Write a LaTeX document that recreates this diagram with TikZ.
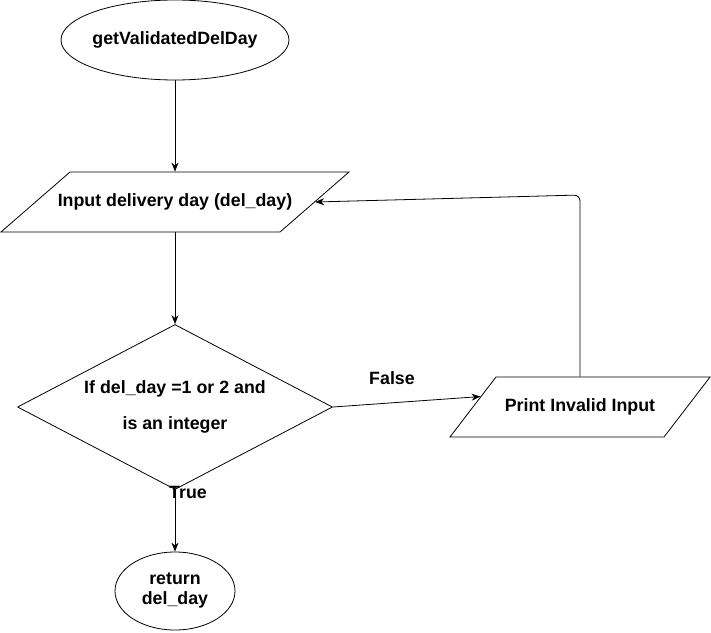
\documentclass[tikz,border=0pt]{standalone}
\usepackage{fontspec}
\setmainfont{Liberation Sans}
\usetikzlibrary{arrows.meta,shapes.geometric}
\tikzset{
	txt/.style={font=\bfseries\fontsize{17.8}{20}\selectfont, align=center},
	shp/.style={draw, line width=0.8pt, inner sep=0pt},
	io/.style={shp, trapezium, inner ysep=30pt},
	flow/.style={line width=0.8pt, -{Stealth[length=9pt,width=7pt]}},
}

\begin{document}
\begin{tikzpicture}[x=1pt,y=-1pt]
		%%%%% START %%%%%
		\useasboundingbox (0,0) rectangle (711,632);
		
		\node[shp, ellipse, minimum width=228pt, minimum height=80pt, label={[txt]center:getValidatedDelDay}] (start) at (175,40) {};
		\node[io, trapezium left angle=41, trapezium right angle=139, inner xsep=105pt, label={[txt]center:Input delivery day (del\_day)}] (input) at (175,202) {};
		\node[shp, diamond, minimum width=315pt, minimum height=165pt, label={[txt, font=\bfseries\fontsize{17.8}{36}\selectfont]center:If del\_day =1 or 2 and\\is an integer}] (check) at (175,407) {};
		\node[io, trapezium left angle=52.5, trapezium right angle=127.5, inner xsep=84pt, label={[txt]center:Print Invalid Input}] (print) at (580,407) {};
		\node[shp, ellipse, minimum width=120pt, minimum height=78pt, label={[txt]center:return\\del\_day}] (ret) at (175,591) {};
		
		\node[txt] (yes) at (188,492) {True};
		\node[txt] (no) at (392,378) {False};
		
		\draw[flow] (start) -- (input);
		\draw[flow] (input) -- (check);
		\draw[flow] (check) -- (ret);
		\draw[flow] (check.east) -- (print.174);
		
		\coordinate (bend) at (580,195);
		\draw[flow, rounded corners=6pt] (print.north) -- (bend) -- (input.east);
		
		%%%%% END %%%%%
\end{tikzpicture}
\end{document}
